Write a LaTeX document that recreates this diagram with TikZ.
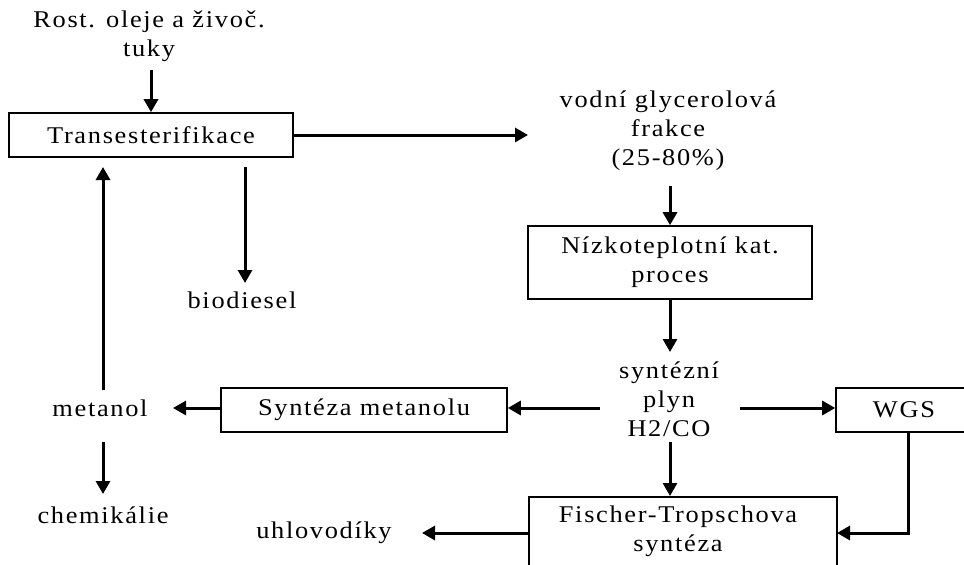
\documentclass[tikz,border=0pt]{standalone}
\usepackage{fontspec}
\setmainfont{Liberation Serif}[LetterSpace=7,FakeStretch=1.1]
\usetikzlibrary{arrows.meta}
\begin{document}
\begin{tikzpicture}[x=1pt,y=-1pt,
  txt/.style={align=center,inner sep=0pt,font=\fontsize{24}{29}\selectfont},
  box/.style={draw,line width=1.6pt,align=center,inner sep=0pt,font=\fontsize{24}{29}\selectfont},
  arr/.style={line width=3pt,-{Triangle[length=13pt,width=14pt]}}]
\clip (0,0) rectangle (964,565);
\fill[white] (0,0) rectangle (964,565);
% nodes
\node[txt] (src) at (149,36) {Rost. oleje a živoč.\\tuky};
\node[box,minimum width=284pt,minimum height=44pt] (trans) at (151,135) {Transesterifikace};
\node[txt] (glyc) at (668,131) {vodní glycerolová\\frakce\\(25-80\%)};
\node[box,minimum width=284pt,minimum height=73pt] (nizko) at (670,262.5) {Nízkoteplotní kat.\\proces};
\node[txt] (syn) at (669,399) {syntézní\\plyn\\H2/CO};
\node[box,minimum width=286pt,minimum height=44pt] (meth) at (364,410) {Syntéza metanolu};
\node[box,minimum width=160pt,minimum height=44pt] (wgs) at (916,410) {\hspace*{-24pt}WGS};
\node[txt] (metanol) at (100,408) {metanol};
\node[txt] (chem) at (103,515) {chemikálie};
\node[txt] (bio) at (242,300) {biodiesel};
\node[txt] (uhlo) at (324,533) {uhlovodíky};
\node[box,minimum width=308pt,minimum height=100pt,anchor=north] (ft) at (683,496) {};
\node[txt] (fttext) at (678,531) {Fischer-Tropschova\\syntéza};
% connector ends
\coordinate (srcout) at (151,70);
\coordinate (glycin) at (528,135);
\coordinate (glycout) at (670,186);
\coordinate (synin) at (670,352);
\coordinate (synL) at (600,408);
\coordinate (synR) at (740,408);
\coordinate (synB) at (670,442);
\coordinate (metR) at (173,408);
\coordinate (metT) at (103,390);
\coordinate (transB) at (103,167);
\coordinate (metB) at (103,442);
\coordinate (chemT) at (103,494);
\coordinate (bioT) at (245,167);
\coordinate (bioB) at (245,283);
\coordinate (wgsout) at (908,432);
\coordinate (ftR) at (837,533);
\coordinate (ftL) at (529,533);
\coordinate (uhloR) at (422,533);
% connectors
\draw[arr] (srcout) -- (srcout |- trans.north);
\draw[arr] (trans.east |- glycin) -- (glycin);
\draw[arr] (glycout) -- (glycout |- nizko.north);
\draw[arr] (glycout |- nizko.south) -- (synin);
\draw[arr] (synL) -- (meth.east |- synL);
\draw[arr] (synR) -- (wgs.west |- synR);
\draw[arr] (synB) -- (synB |- ft.north);
\draw[arr] (meth.west |- metR) -- (metR);
\draw[arr] (metT) -- (transB);
\draw[arr] (metB) -- (chemT);
\draw[arr] (bioT) -- (bioB);
\draw[arr] (wgsout) |- (ftR);
\draw[arr] (ftL) -- (uhloR);
\end{tikzpicture}
\end{document}
